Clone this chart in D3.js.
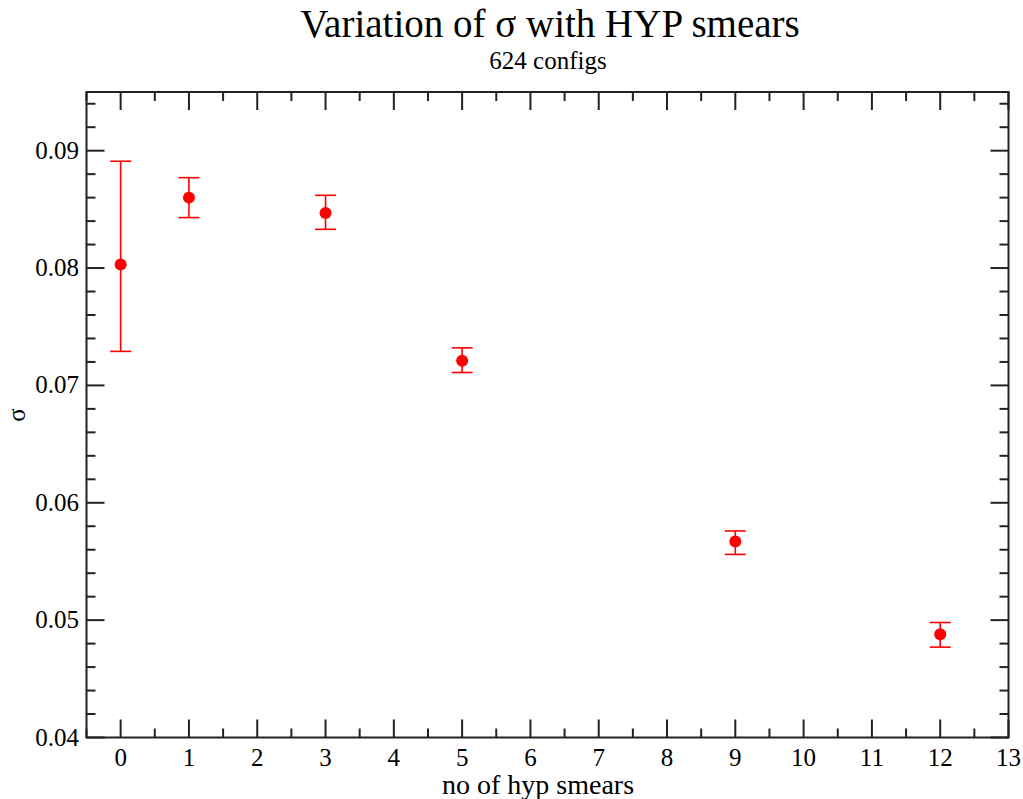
<!DOCTYPE html>
<html><head><meta charset="utf-8">
<script src="https://cdn.jsdelivr.net/npm/d3@7"></script>
<style>html,body{margin:0;padding:0;background:#fff;}</style>
</head><body><svg id="c" width="1023" height="799"></svg>
<script>
const smears = [0, 1, 3, 5, 9, 12];
const sigma = [0.0803, 0.0860, 0.0847, 0.0721, 0.0567, 0.0488];
const errUp = [0.0891, 0.0877, 0.0862, 0.0732, 0.0576, 0.0498];
const errLo = [0.0729, 0.0843, 0.0833, 0.0711, 0.0556, 0.0477];
const xTicks = [0,1,2,3,4,5,6,7,8,9,10,11,12,13];
const yTicks = [0.04,0.05,0.06,0.07,0.08,0.09];

const svg = d3.select("#c");
const L=86.5, R=1008.5, T=92, B=737.5;
const x = d3.scaleLinear().domain([-0.5,13]).range([L,R]);
const y = d3.scaleLinear().domain([0.04,0.095]).range([B,T]);
const font = "'Liberation Serif','Times New Roman',serif";

const xMinor = d3.range(-0.5,13.01,0.5).filter(v=>!Number.isInteger(v));
const yMinor = d3.range(0.040,0.0951,0.002).filter(v=>Math.abs(v*100-Math.round(v*100))>1e-6);

const g = svg.append("g").attr("stroke","#222").attr("stroke-width",2);
function vt(v,len,top){ g.append("line").attr("x1",x(v)).attr("x2",x(v)).attr("y1",top?T:B).attr("y2",top?T+len:B-len); }
function ht(v,len,right){ g.append("line").attr("y1",y(v)).attr("y2",y(v)).attr("x1",right?R:L).attr("x2",right?R-len:L+len); }
xTicks.forEach(v=>{vt(v,18,false);vt(v,18,true);});
xMinor.forEach(v=>{vt(v,9,false);vt(v,9,true);});
yTicks.forEach(v=>{ht(v,18,false);ht(v,18,true);});
yMinor.forEach(v=>{ht(v,9,false);ht(v,9,true);});
svg.append("rect").attr("x",L).attr("y",T).attr("width",R-L).attr("height",B-T)
  .attr("fill","none").attr("stroke","#222").attr("stroke-width",2);

svg.append("g").selectAll("text").data(xTicks).join("text")
  .attr("x",d=>x(d)).attr("y",766).attr("text-anchor","middle")
  .attr("font-family",font).attr("font-size",25).text(d=>d);
svg.append("g").selectAll("text").data(yTicks).join("text")
  .attr("x",79).attr("y",d=>y(d)+8).attr("text-anchor","end")
  .attr("font-family",font).attr("font-size",25).text(d=>d.toFixed(2));

svg.append("text").attr("x",550).attr("y",37).attr("text-anchor","middle")
  .attr("font-family",font).attr("font-size",39).text("Variation of σ with HYP smears");
svg.append("text").attr("x",548).attr("y",69).attr("text-anchor","middle")
  .attr("font-family",font).attr("font-size",25).text("624 configs");
svg.append("text").attr("x",538).attr("y",794).attr("text-anchor","middle")
  .attr("font-family",font).attr("font-size",28).text("no of hyp smears");
svg.append("text").attr("transform","translate(25,415) rotate(-90)").attr("text-anchor","middle")
  .attr("font-family",font).attr("font-size",25).text("σ");

const data = smears.map((s,i)=>({s,v:sigma[i],hi:errUp[i],lo:errLo[i]}));
const dg = svg.append("g").attr("stroke","#ff0000").attr("stroke-width",1.6);
data.forEach(d=>{
  dg.append("line").attr("x1",x(d.s)).attr("x2",x(d.s)).attr("y1",y(d.hi)).attr("y2",y(d.lo));
  dg.append("line").attr("x1",x(d.s)-10.5).attr("x2",x(d.s)+10.5).attr("y1",y(d.hi)).attr("y2",y(d.hi));
  dg.append("line").attr("x1",x(d.s)-10.5).attr("x2",x(d.s)+10.5).attr("y1",y(d.lo)).attr("y2",y(d.lo));
});
svg.append("g").selectAll("circle").data(data).join("circle")
  .attr("cx",d=>x(d.s)).attr("cy",d=>y(d.v)).attr("r",6).attr("fill","#ff0000");
</script></body></html>
